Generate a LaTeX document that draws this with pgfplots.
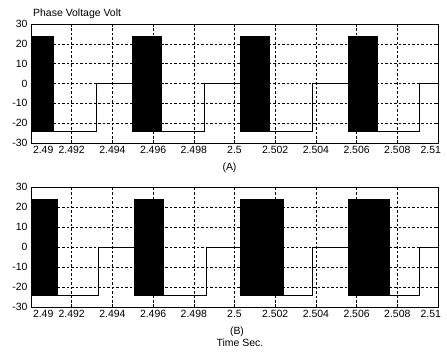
\documentclass[border=0pt]{standalone}
\usepackage{fontspec}
\setmainfont{Liberation Sans}
\usepackage{pgfplots}
\pgfplotsset{compat=1.18}

\pgfplotsset{
  phase/.style={
    scale only axis, width=407bp, height=119bp,
    xmin=2.49, xmax=2.51, ymin=-30, ymax=30,
    xtick={2.49,2.492,2.494,2.496,2.498,2.5,2.502,2.504,2.506,2.508,2.51},
    % end labels pulled inwards so they clear the y labels and the frame
    xticklabels={\makebox[0pt][l]{\hspace{2bp}2.49},2.492,2.494,2.496,2.498,2.5,2.502,2.504,2.506,2.508,\makebox[0pt][r]{2.51\hspace{-3bp}}},
    ytick={-30,-20,-10,0,10,20,30},
    grid=major,
    major grid style={black, line width=0.45pt, dash pattern=on 2.5pt off 2pt},
    tick align=inside,
    major tick length=3pt,
    axis line style={black, line width=0.6pt},
    tick style={black, line width=0.6pt},
    ticklabel style={font=\fontsize{10.5}{12}\selectfont},
    /pgf/number format/assume math mode=true,
  },
  wave/.style={black, line width=0.6pt, mark=none},
  block/.style={fill=black, draw=black, line width=0.6pt, mark=none},
}

\begin{document}
\begin{tikzpicture}
\path[use as bounding box] (0,0) rectangle (447bp,354bp);

% (A) phase voltage
\begin{axis}[phase, name=top, at={(31bp,211bp)}, anchor=south west]
  \addplot[block] coordinates {(2.4900,-24) (2.4900,24) (2.4911,24) (2.4911,-24)} -- cycle;
  \addplot[block] coordinates {(2.4950,-24) (2.4950,24) (2.4964,24) (2.4964,-24)} -- cycle;
  \addplot[block] coordinates {(2.5003,-24) (2.5003,24) (2.5017,24) (2.5017,-24)} -- cycle;
  \addplot[block] coordinates {(2.5056,-24) (2.5056,24) (2.5070,24) (2.5070,-24)} -- cycle;
  \addplot[wave] coordinates {
    (2.4911,-24) (2.4932,-24) (2.4932,0) (2.4950,0) (2.4950,24)
    (2.4964,24) (2.4964,-24) (2.4985,-24) (2.4985,0) (2.5003,0) (2.5003,24)
    (2.5017,24) (2.5017,-24) (2.5038,-24) (2.5038,0) (2.5056,0) (2.5056,24)
    (2.5070,24) (2.5070,-24) (2.5091,-24) (2.5091,0) (2.5100,0)
  };
\end{axis}

% (B) phase voltage
\begin{axis}[phase, name=bot, height=120bp, at={(31bp,47bp)}, anchor=south west]
  \addplot[block] coordinates {(2.4900,-24) (2.4900,24) (2.4913,24) (2.4913,-24)} -- cycle;
  \addplot[block] coordinates {(2.4951,-24) (2.4951,24) (2.4965,24) (2.4965,-24)} -- cycle;
  \addplot[block] coordinates {(2.5003,-24) (2.5003,24) (2.5024,24) (2.5024,-24)} -- cycle;
  \addplot[block] coordinates {(2.5056,-24) (2.5056,24) (2.5076,24) (2.5076,-24)} -- cycle;
  \addplot[wave] coordinates {
    (2.4913,-24) (2.4933,-24) (2.4933,0) (2.4951,0) (2.4951,24)
    (2.4965,24) (2.4965,-24) (2.4986,-24) (2.4986,0) (2.5003,0) (2.5003,24)
    (2.5024,24) (2.5024,-24) (2.5038,-24) (2.5038,0) (2.5056,0) (2.5056,24)
    (2.5076,24) (2.5076,-24) (2.5091,-24) (2.5091,0) (2.5100,0)
  };
\end{axis}

\path (top.north west) ++(2bp,10bp) node[anchor=west, inner sep=0pt, font=\fontsize{10.5}{12}\selectfont] {Phase Voltage Volt};
\path (top.south) ++(-5bp,-25bp) node[inner sep=0pt, font=\fontsize{10.5}{12}\selectfont] {(A)};
\path (bot.south) ++(2.5bp,-24.7bp) node[inner sep=0pt, font=\fontsize{10.5}{12}\selectfont] {(B)};
\path (bot.south) ++(5.5bp,-35.5bp) node[inner sep=0pt, font=\fontsize{10.5}{12}\selectfont] {Time Sec.};
\end{tikzpicture}
\end{document}
